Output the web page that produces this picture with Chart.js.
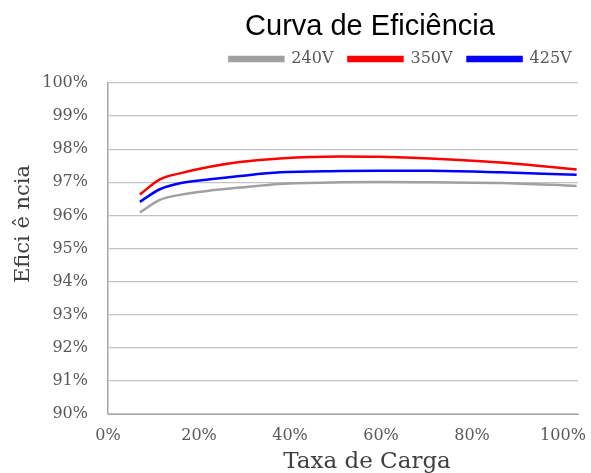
<!DOCTYPE html>
<html>
<head>
<meta charset="utf-8">
<script src="https://cdn.jsdelivr.net/npm/chart.js@4/dist/chart.umd.min.js"></script>
<style>
  html, body { margin: 0; padding: 0; background: #ffffff; }
  #wrap { width: 591px; height: 473px; }
</style>
</head>
<body>
<div id="wrap"><canvas id="c" width="591" height="473"></canvas></div>
<script>
const chartTitle = 'Curva de Eficiência';
const xTitle = 'Taxa de Carga';
const yTitle = 'Efici ê ncia';
const seriesNames = ['240V', '350V', '425V'];
const seriesColors = ['#a0a0a0', '#ff0000', '#0000ff'];

// Load rate (%) sample points
const load = [7, 11.4, 15.8, 22.4, 29, 37.8, 51, 59.8, 70.8, 86.2, 103];
// Efficiency (%) per series
const eff240 = [96.09, 96.47, 96.62, 96.75, 96.84, 96.95, 97.00, 97.01, 97.00, 96.98, 96.89];
const eff350 = [96.63, 97.09, 97.27, 97.47, 97.61, 97.72, 97.78, 97.77, 97.72, 97.60, 97.39];
const eff425 = [96.41, 96.79, 96.97, 97.09, 97.19, 97.30, 97.34, 97.35, 97.35, 97.30, 97.23];

// Axis tick settings
const xTicks = [0, 20, 40, 60, 80, 100];
const yMin = 90, yMax = 100, yStep = 1;

const seriesValues = [eff240, eff350, eff425];

const datasets = seriesNames.map((name, i) => ({
  label: name,
  data: load.map((x, j) => ({ x: x, y: seriesValues[i][j] })),
  borderColor: seriesColors[i],
  backgroundColor: seriesColors[i],
  borderWidth: 2.5,
  pointRadius: 0,
  pointHoverRadius: 0,
  cubicInterpolationMode: 'monotone',
  fill: false
}));

const tickColor = '#595959';
const serif = "'DejaVu Serif', serif";

const layoutPlugin = {
  id: 'layoutTweaks',
  afterInit(chart) {
    const lg = chart.legend;
    const origFit = lg.fit.bind(lg);
    lg.fit = function () { origFit(); this.height = 47; };
  },
  afterLayout(chart) {
    const t = chart.titleBlock;
    const dt = 370 - (t.left + t.right) / 2;
    t.left += dt; t.right += dt;
    const lg = chart.legend;
    const dl = 400.5 - (lg.left + lg.right) / 2;
    lg.left += dl; lg.right += dl;
  },
  afterDraw(chart) {
    const ctx = chart.ctx;
    ctx.save();
    ctx.fillStyle = '#404040';
    ctx.textAlign = 'center';
    ctx.textBaseline = 'middle';
    ctx.font = "23px " + serif;
    ctx.fillText(xTitle, 367, 462);
    ctx.translate(24, 224);
    ctx.rotate(-Math.PI / 2);
    ctx.font = "21px " + serif;
    ctx.fillText(yTitle, 0, 0);
    ctx.restore();
  }
};

new Chart(document.getElementById('c'), {
  type: 'line',
  data: { datasets: datasets },
  plugins: [layoutPlugin],
  options: {
    responsive: false,
    animation: false,
    layout: { padding: { left: 5, right: 13, top: 0, bottom: 0 } },
    plugins: {
      tooltip: { enabled: false },
      title: {
        display: true,
        text: chartTitle,
        color: '#000000',
        font: { family: "'Liberation Sans', Arial, sans-serif", size: 29, weight: 'normal', lineHeight: 1 },
        padding: { top: 12, bottom: -5 }
      },
      legend: {
        display: true,
        position: 'top',
        align: 'center',
        labels: {
          boxWidth: 54,
          boxHeight: 4,
          padding: 15,
          color: tickColor,
          font: { family: serif, size: 16 }
        }
      }
    },
    scales: {
      x: {
        type: 'linear',
        min: 0,
        max: 103.3,
        afterBuildTicks: (s) => { s.ticks = xTicks.map(v => ({ value: v })); },
        afterFit: (s) => { s.height = 59; s.paddingRight = 0; s.paddingLeft = 0; },
        grid: { display: false, drawTicks: false },
        border: { display: true, color: '#a6a6a6', width: 1 },
        ticks: {
          color: tickColor,
          padding: 12,
          maxRotation: 0,
          autoSkip: false,
          font: { family: serif, size: 16 },
          callback: (v) => v + '%'
        }
      },
      y: {
        type: 'linear',
        min: yMin,
        max: yMax,
        afterFit: (s) => { s.width = 103; },
        grid: { color: '#c4c4c4', lineWidth: 1.3, drawTicks: false },
        border: { display: true, color: '#a6a6a6', width: 1.5 },
        ticks: {
          stepSize: yStep,
          color: tickColor,
          padding: 20,
          font: { family: serif, size: 16 },
          callback: (v) => v + '%'
        }
      }
    }
  }
});
</script>
</body>
</html>
